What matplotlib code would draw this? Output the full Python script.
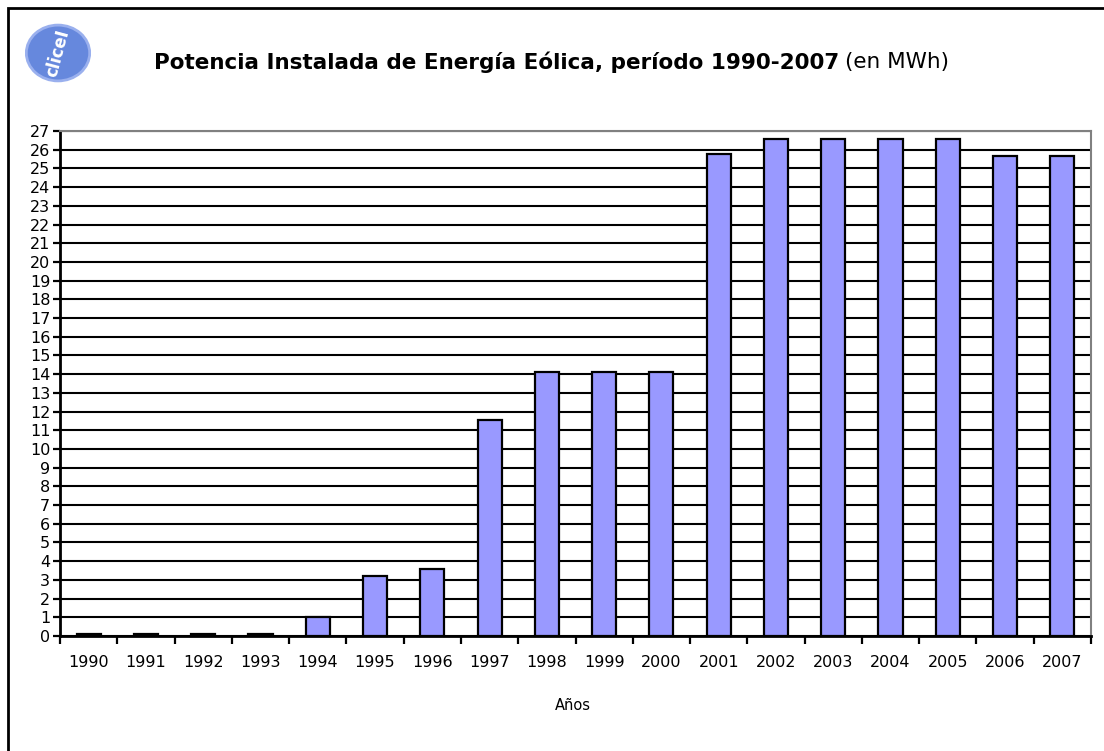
import numpy as np
import matplotlib.pyplot as plt
from matplotlib.patches import Ellipse, Rectangle

# data (MWh)
years = ["1990", "1991", "1992", "1993", "1994", "1995", "1996", "1997", "1998",
         "1999", "2000", "2001", "2002", "2003", "2004", "2005", "2006", "2007"]
potencia = [0.1, 0.1, 0.1, 0.1, 1.0, 3.2, 3.6, 11.55, 14.1,
            14.1, 14.1, 25.75, 26.55, 26.55, 26.55, 26.55, 25.65, 25.65]

plt.rcParams['font.family'] = ['DejaVu Sans']

fig = plt.figure(figsize=(11.04, 7.51), dpi=100)
W, H = 1104, 751

# outer frame (left/top visible, rest off-canvas)
fig.patches.append(Rectangle((8 / W, -0.05), 1.2, 1 - 8 / H + 0.05, transform=fig.transFigure,
                             fill=False, edgecolor='black', linewidth=2))

ax = fig.add_axes([60 / W, 1 - 636 / H, (1091 - 60) / W, (636 - 131) / H])

x = np.arange(len(years))
ax.bar(x, potencia, width=0.42, color='#9999FF', edgecolor='black', linewidth=1.6, zorder=3)

ax.set_xlim(-0.5, len(years) - 0.5)
ax.set_ylim(0, 27)
ax.set_yticks(np.arange(0, 28, 1))
ax.yaxis.grid(True, color='black', linewidth=1.5, zorder=1)
ax.set_axisbelow(True)

# category ticks between bars, labels centered
ax.set_xticks(np.arange(-0.5, len(years), 1))
ax.set_xticklabels([])
ax.set_xticks(x, minor=True)
ax.set_xticklabels(years, minor=True)
ax.tick_params(axis='x', which='major', direction='out', length=6, width=1.6)
ax.tick_params(axis='x', which='minor', length=0, pad=14, labelsize=11.5)
ax.tick_params(axis='y', direction='out', length=5, width=1.6, pad=2, labelsize=11.5)

for s in ['left', 'bottom']:
    ax.spines[s].set_linewidth(2)
    ax.spines[s].set_color('black')
for s in ['top', 'right']:
    ax.spines[s].set_linewidth(1.5)
    ax.spines[s].set_color('#808080')

fig.text(573 / W, 1 - 706 / H, "Años", ha='center', va='center', fontsize=10.5)

# title: bold part plus normal part
t1 = fig.text(154 / W, 1 - 62 / H, "Potencia Instalada de Energía Eólica, período 1990-2007",
              ha='left', va='center', fontsize=15.5, fontweight='bold')
r = fig.canvas.get_renderer()
bb = t1.get_window_extent(renderer=r)
fig.text(bb.x1 / W + 6 / W, 1 - 62 / H, "(en MWh)", ha='left', va='center', fontsize=15.5)

# logo
lax = fig.add_axes([25 / W, 1 - 84 / H, 66 / W, 62 / H])
lax.set_xlim(0, 1)
lax.set_ylim(0, 1)
lax.axis('off')
lax.add_patch(Ellipse((0.5, 0.5), 0.96, 0.9, facecolor='#6688DD', edgecolor='#9AB0EE', linewidth=2))
lax.text(0.5, 0.5, "cliceI", color='white', ha='center', va='center', fontsize=12,
         fontweight='bold', rotation=75)

fig.savefig("out.png", dpi=100)
